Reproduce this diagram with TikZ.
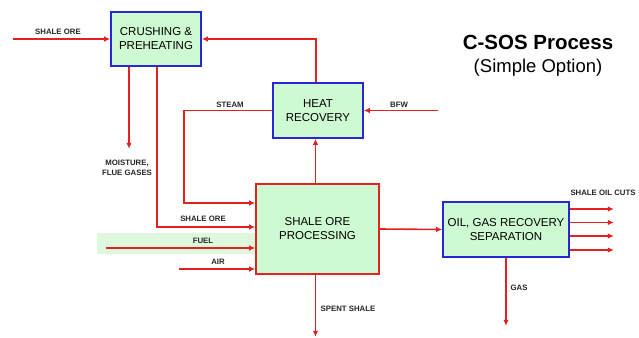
\documentclass[tikz,border=0pt]{standalone}
\usepackage{fontspec}
\setmainfont{Liberation Sans}
\usetikzlibrary{arrows.meta}
\definecolor{flowred}{RGB}{228,32,32}
\definecolor{boxgreen}{RGB}{206,250,210}
\definecolor{bandgreen}{RGB}{222,248,222}
\definecolor{boxblue}{RGB}{40,40,210}
\tikzset{
  flow/.style={draw=flowred, line width=1.6pt, -{Latex[length=6pt,width=5.5pt]}},
  unitbox/.style={draw=boxblue, line width=1.6pt, fill=boxgreen, align=center, inner sep=0pt,
    font=\fontsize{11.5}{14}\selectfont},
  procbox/.style={unitbox, draw=flowred},
  lbl/.style={font=\fontsize{7.8}{8}\selectfont\bfseries, inner sep=0pt, text=black!85},
}
\begin{document}
\begin{tikzpicture}[x=1pt,y=-1pt]
\useasboundingbox (0,0) rectangle (639,337);
\fill[white] (0,0) rectangle (639,337);
% fuel band
\fill[bandgreen] (97,233) rectangle (256,254);
% boxes
\node[unitbox, minimum width=90pt, minimum height=54pt] (crush) at (156,39) {CRUSHING \&\\PREHEATING};
\node[unitbox, minimum width=90pt, minimum height=55pt] (heat) at (318,110.5) {HEAT\\RECOVERY};
\node[procbox, minimum width=123pt, minimum height=90pt] (proc) at (317.5,229) {SHALE ORE\\PROCESSING};
\node[unitbox, minimum width=126pt, minimum height=55pt] (oil) at (506,229.5) {OIL, GAS RECOVERY\\SEPARATION};
% free ends
\coordinate (oreIn) at (13,39);
\coordinate (bfwIn) at (438,110.5);
\coordinate (fuelIn) at (106,248);
\coordinate (airIn) at (179,269);
% connectors
\draw[flow] (oreIn) -- (crush.west);
\draw[flow] ([xshift=-2pt]heat.north) |- (crush.east);
\draw[flow] (bfwIn) -- (heat.east);
\draw[flow] (heat.west) -| ([xshift=-71pt,yshift=26pt]proc.west) -- ([yshift=26pt]proc.west);
\draw[flow] ([xshift=-27pt]crush.south) -- ++(0,82);
\draw[flow] ([xshift=1pt]crush.south) |- ([yshift=2pt]proc.west);
\draw[flow] (fuelIn) -- ([yshift=-19pt]proc.west);
\draw[flow] (airIn) -- ([yshift=-40pt]proc.west);
\draw[flow] ([xshift=-2pt]proc.north) -- ([xshift=-2pt]proc.north |- heat.south);
\draw[flow] ([xshift=-2pt]proc.south) -- ++(0,62);
\draw[flow] (proc.east) -- (oil.west);
\foreach \dy in {20.5,7,-6.5,-20.5} {
  \draw[flow] ([yshift=\dy pt]oil.east) -- ++(44,0);
}
\draw[flow] (oil.south) -- ++(0,68);
% labels
\node[lbl] (lOre) at (58,32) {SHALE ORE};
\node[lbl] (lSteam) at (230,105) {STEAM};
\node[lbl] (lBfw) at (399,105) {BFW};
\node[lbl, align=center] (lMoist) at (127,168) {MOISTURE,\\[2pt]FLUE GASES};
\node[lbl] (lOre2) at (203,219) {SHALE ORE};
\node[lbl] (lFuel) at (203,241) {FUEL};
\node[lbl] (lAir) at (218,262) {AIR};
\node[lbl] (lSpent) at (348,309) {SPENT SHALE};
\node[lbl] (lGas) at (519,288) {GAS};
\node[lbl] (lCuts) at (603,193) {SHALE OIL CUTS};
% title
\node[font=\fontsize{20.5}{24}\selectfont\bfseries, inner sep=0pt] (title) at (538,42) {C-SOS Process};
\node[font=\fontsize{18.5}{22}\selectfont, inner sep=0pt] (subtitle) at (538,68) {(Simple Option)};
\end{tikzpicture}
\end{document}
